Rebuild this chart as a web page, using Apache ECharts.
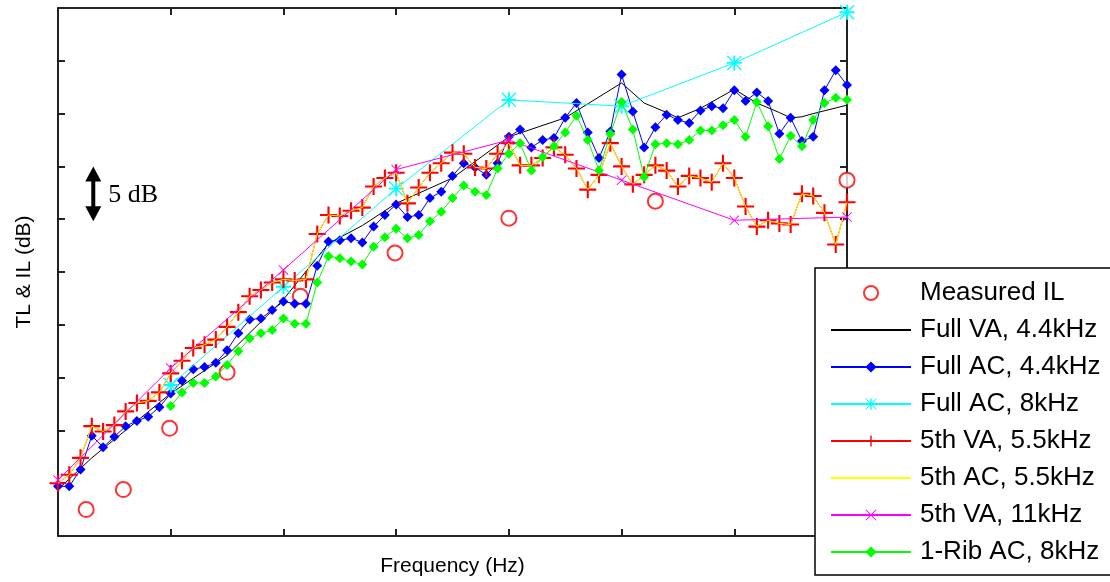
<!DOCTYPE html>
<html><head><meta charset="utf-8">
<script src="https://cdn.jsdelivr.net/npm/echarts@6/dist/echarts.min.js"></script>
<style>html,body{margin:0;padding:0;background:#fff}#c{width:1110px;height:582px}</style>
</head><body><div id="c"></div>
<script>
// ---- data (frequency band index on x, dB on y; axis labels are hidden in the original) ----
const bands = [0,1,2,3,4,5,6,7,8,9,10,11,12,13,14,15,16,17,18,19,20,21,22,23,24,25,26,27,28,29,30,31,32,33,34,35,36,37,38,39,40,41,42,43,44,45,46,47,48,49,50,51,52,53,54,55,56,57,58,59,60,61,62,63,64,65,66,67,68,69,70];
const ribBands = [10,11,12,13,14,15,16,17,18,19,20,21,22,23,24,25,26,27,28,29,30,31,32,33,34,35,36,37,38,39,40,41,42,43,44,45,46,47,48,49,50,51,52,53,54,55,56,57,58,59,60,61,62,63,64,65,66,67,68,69,70];

const measuredX = [2.5,5.8,9.9,15.0,21.5,29.9,40.0,53.0,70.0];
const measuredIL = [2.5,4.4,10.2,15.5,22.7,26.8,30.1,31.7,33.7];

const fullVA44X = [0,3,10,15,20,24,27,30,35,40,45,50,52,54,55,57,60,62,64,65,66,67,70];
const fullVA44 = [4.4,7.4,13.5,17.1,22.4,27.7,29.4,31.5,33.9,37.8,39.6,42.9,41.0,40.1,39.6,40.5,42.3,41.0,40.1,39.6,39.7,40.0,40.8];

const fullAC44 = [4.7,4.7,6.3,9.5,8.4,9.4,10.4,10.9,11.3,12.2,
13.5,14.7,15.8,16.0,16.4,17.6,19.2,20.5,20.6,21.4,
22.2,22.0,22.0,25.6,27.9,28.0,28.2,27.8,29.3,30.4,
31.4,30.2,30.4,32.0,32.6,34.1,35.3,34.9,34.2,35.3,
37.8,38.5,36.8,37.5,37.7,39.6,41.0,38.2,35.8,38.3,
43.7,40.2,36.8,38.7,39.9,39.4,39.1,40.3,40.7,40.5,
42.2,41.2,42.0,41.2,38.1,39.6,37.4,37.8,42.2,44.1,42.7];

const fullAC8X = [10,20,30,40,50,60,70];
const fullAC8 = [14.3,23.6,32.9,41.3,40.7,44.8,49.6];

const fifthVA55 = [5.0,5.8,7.4,10.4,9.9,10.5,11.8,12.6,12.8,13.6,
15.4,16.6,17.8,18.1,18.6,19.8,21.2,22.7,23.3,24.0,
24.3,24.2,24.3,28.6,30.4,30.3,30.8,31.1,33.1,33.9,
34.4,31.5,33.0,34.4,35.3,36.3,36.2,34.9,34.8,36.2,
37.2,35.1,35.1,35.8,36.8,36.1,34.8,32.8,34.2,37.2,
35.0,33.3,34.2,35.1,34.6,33.1,34.1,33.9,33.5,35.3,
33.9,31.2,29.3,29.9,29.6,29.5,32.4,32.2,30.6,27.6,31.6];

const fifthAC55 = [5.0,5.8,7.4,10.4,9.9,10.5,11.8,12.6,12.8,13.6,
15.4,16.6,17.8,18.1,18.6,19.8,21.2,22.7,23.3,24.0,
24.3,24.2,24.3,28.6,30.4,30.3,30.8,31.1,33.1,33.9,
34.4,31.5,33.0,34.4,35.3,36.3,36.2,34.9,34.8,36.2,
37.2,35.1,35.1,35.8,36.8,36.1,34.8,32.8,34.2,37.2,
35.0,33.3,34.2,35.1,34.6,33.1,34.1,33.9,33.5,35.3,
33.9,31.2,29.3,29.9,29.6,29.5,32.4,32.2,30.6,27.6,31.6];

const fifthVA11X = [0,10,20,30,40,50,60,70];
const fifthVA11 = [5.3,15.9,25.2,34.7,37.5,33.7,29.9,30.2];

const rib1AC8 = [12.3,13.6,14.5,14.5,15.1,16.2,17.5,18.7,19.2,19.5,
20.6,20.1,20.1,24.0,26.5,26.3,26.0,25.7,27.4,28.3,
29.1,28.2,28.5,29.8,30.7,32.0,33.2,32.6,32.3,34.8,
36.2,37.2,34.6,35.9,36.9,38.2,39.8,37.5,34.6,38.1,
41.1,38.5,34.0,37.1,37.2,37.1,37.5,38.4,38.4,38.9,
39.4,37.8,41.1,38.8,35.7,37.9,36.9,39.4,41.0,41.5,41.3];

const seriesNames = ['Measured IL','Full VA, 4.4kHz','Full AC, 4.4kHz','Full AC, 8kHz','5th VA, 5.5kHz','5th AC, 5.5kHz','5th VA, 11kHz','1-Rib AC, 8kHz'];

// 5 dB scale bar (data coordinates)
const scaleBarX = 3.13;
const scaleBarLow = 29.8;
const scaleBarHigh = 35.0;
const scaleBarLabel = '5 dB';

// ---- build ----
const zip = (xs, ys) => xs.map((x, i) => [x, ys[i]]);
const plusPath = 'path://M7,0H9V7H16V9H9V16H7V9H0V7H7Z';
const xPath = 'path://M0,1L1,0L8,7L15,0L16,1L9,8L16,15L15,16L8,9L1,16L0,15L7,8Z';
const starPath = 'path://M7,0H9V7H16V9H9V16H7V9H0V7H7Z M0,1L1,0L8,7L15,0L16,1L9,8L16,15L15,16L8,9L1,16L0,15L7,8Z';

const axisCommon = {
  type: 'value',
  axisLine: { show: true, onZero: false, lineStyle: { color: '#222', width: 2 } },
  axisTick: { show: true, inside: true, length: 7, lineStyle: { color: '#222', width: 2 } },
  axisLabel: { show: false },
  splitLine: { show: false }
};
const nameFont = { fontFamily: 'Arial, "Liberation Sans", sans-serif', fontSize: 21, color: '#000' };

const chart = echarts.init(document.getElementById('c'), null, { renderer: 'canvas' });

function lineSeries(name, data, color, symbol, size, z) {
  return {
    name, type: 'line', data, z, clip: false, animation: false,
    symbol: symbol || 'circle', symbolSize: size || 0, showSymbol: !!symbol,
    lineStyle: { color, width: 1 },
    itemStyle: { color },
    emphasis: { disabled: true }
  };
}

const legendData = seriesNames.map((n, i) =>
  (i === 1 || i === 5) ? { name: n, itemStyle: { opacity: 0 } } : { name: n });

chart.setOption({
  animation: false,
  backgroundColor: '#fff',
  grid: { left: 58, right: 263, top: 8, bottom: 46, containLabel: false },
  xAxis: [
    Object.assign({}, axisCommon, { min: 0, max: 70, interval: 10, position: 'bottom',
      name: 'Frequency (Hz)', nameLocation: 'middle', nameGap: 20, nameTextStyle: nameFont }),
    Object.assign({}, axisCommon, { min: 0, max: 70, interval: 10, position: 'top' })
  ],
  yAxis: [
    Object.assign({}, axisCommon, { min: 0, max: 50, interval: 5, position: 'left',
      name: 'TL & IL (dB)', nameLocation: 'middle', nameGap: 23, nameTextStyle: nameFont }),
    Object.assign({}, axisCommon, { min: 0, max: 50, interval: 5, position: 'right' })
  ],
  legend: {
    data: legendData,
    orient: 'vertical',
    left: 815, top: 268,
    padding: [11, 40, 9, 15],
    itemWidth: 80, itemHeight: 14, itemGap: 9,
    selectedMode: false,
    backgroundColor: '#fff',
    borderColor: '#000', borderWidth: 1.5, borderRadius: 0,
    z: 30,
    textStyle: { fontFamily: 'Arial, "Liberation Sans", sans-serif', fontSize: 26, lineHeight: 28, color: '#000', padding: [0, 0, 0, 4] }
  },
  series: [
    { name: seriesNames[0], type: 'scatter', data: zip(measuredX, measuredIL), z: 2, clip: false,
      symbol: 'emptyCircle', symbolSize: 15,
      itemStyle: { color: '#ff0000', borderColor: '#ff0000', borderWidth: 1.5 }, emphasis: { disabled: true } },
    lineSeries(seriesNames[1], zip(fullVA44X, fullVA44), '#000000', null, 0, 3),
    lineSeries(seriesNames[2], zip(bands, fullAC44), '#0000ff', 'diamond', 10, 4),
    lineSeries(seriesNames[3], zip(fullAC8X, fullAC8), '#00ffff', starPath, 15, 5),
    lineSeries(seriesNames[4], zip(bands, fifthVA55), '#ff0000', plusPath, 17, 6),
    lineSeries(seriesNames[5], zip(bands, fifthAC55), '#ffff00', null, 0, 7),
    lineSeries(seriesNames[6], zip(fifthVA11X, fifthVA11), '#ff00ff', xPath, 10, 8),
    lineSeries(seriesNames[7], zip(ribBands, rib1AC8), '#00ff00', 'diamond', 10, 9)
  ]
});

// 5 dB scale bar annotation, positioned through the axis scales
const pLow = chart.convertToPixel({ gridIndex: 0 }, [scaleBarX, scaleBarLow]);
const pHigh = chart.convertToPixel({ gridIndex: 0 }, [scaleBarX, scaleBarHigh]);
const ax = pLow[0], yTop = pHigh[1], yBot = pLow[1];
chart.setOption({
  graphic: [
    { type: 'line', z: 40, shape: { x1: ax, y1: yTop + 10, x2: ax, y2: yBot - 10 }, style: { stroke: '#000', lineWidth: 4 } },
    { type: 'polygon', z: 40, shape: { points: [[ax, yTop], [ax - 8, yTop + 15], [ax + 8, yTop + 15]] }, style: { fill: '#000' } },
    { type: 'polygon', z: 40, shape: { points: [[ax, yBot], [ax - 8, yBot - 15], [ax + 8, yBot - 15]] }, style: { fill: '#000' } },
    { type: 'text', z: 40, x: ax + 15, y: (yTop + yBot) / 2 + 1,
      style: { text: scaleBarLabel, fill: '#000', font: '26px "Liberation Serif", "Times New Roman", serif', verticalAlign: 'middle', align: 'left' } }
  ]
});
</script>
</body></html>
